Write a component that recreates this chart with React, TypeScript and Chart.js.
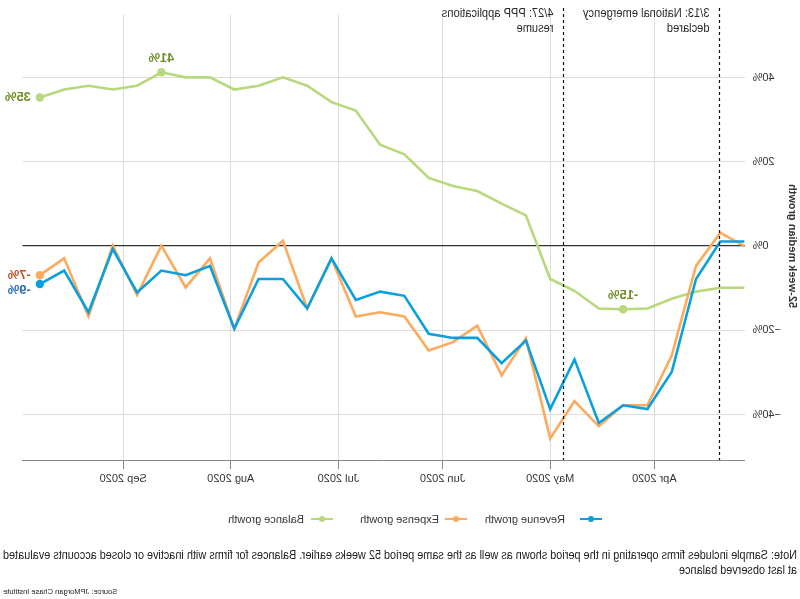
import React, { useEffect, useRef } from "react";
import { Chart, registerables } from "chart.js";

Chart.register(...registerables);

// ---------- data ----------
const dates = [
  "2020-03-06", "2020-03-13", "2020-03-20", "2020-03-27", "2020-04-03", "2020-04-10",
  "2020-04-17", "2020-04-24", "2020-05-01", "2020-05-08", "2020-05-15", "2020-05-22",
  "2020-05-29", "2020-06-05", "2020-06-12", "2020-06-19", "2020-06-26", "2020-07-03",
  "2020-07-10", "2020-07-17", "2020-07-24", "2020-07-31", "2020-08-07", "2020-08-14",
  "2020-08-21", "2020-08-28", "2020-09-04", "2020-09-11", "2020-09-18", "2020-09-25",
];

const revenueGrowth = [
  1.1, 1.1, -7.8, -29.9, -38.7, -37.8, -42.0, -26.9, -38.7, -22.4, -27.8, -21.8,
  -21.8, -20.8, -11.8, -10.8, -12.8, -2.9, -14.8, -7.8, -7.8, -19.6, -4.7, -6.9,
  -5.8, -11.0, -0.7, -15.7, -5.8, -9.0,
];

const expenseGrowth = [
  0.0, 3.2, -4.7, -26.0, -37.8, -37.8, -42.8, -36.8, -45.7, -21.9, -30.7, -18.9,
  -22.8, -24.8, -16.7, -15.7, -16.7, -2.9, -14.8, 1.3, -3.9, -19.6, -2.9, -9.8,
  0.1, -11.6, 0.1, -16.7, -2.9, -6.9,
];

const balanceGrowth = [
  -9.9, -9.9, -10.8, -12.5, -14.8, -15.0, -14.8, -10.6, -7.8, 7.3, 10.1, 13.1,
  14.3, 16.2, 21.8, 24.1, 32.2, 34.2, 38.1, 40.1, 38.1, 37.2, 40.1, 40.1,
  41.3, 38.1, 37.2, 38.1, 37.2, 35.3,
];

const seriesNames = ["Revenue growth", "Expense growth", "Balance growth"];
const seriesColors = ["#0aa0dd", "#fdaa5c", "#b8d87c"];
const labelColors = ["#2d70b1", "#b9562a", "#6e8e27"];

const xTickDates = ["2020-04-01", "2020-05-01", "2020-06-01", "2020-07-01", "2020-08-01", "2020-09-01"];
const xTickLabels = ["Apr 2020", "May 2020", "Jun 2020", "Jul 2020", "Aug 2020", "Sep 2020"];
const xRangeDates = ["2020-03-06", "2020-09-30"];
const yTickValues = [-40, -20, 0, 20, 40];
const yRange = [-50.8, 55];
const yAxisTitle = "52-week median growth";

const eventDates = ["2020-03-13", "2020-04-27"];
const eventTexts = [
  ["3/13: National emergency", "declared"],
  ["4/27: PPP applications", "resume"],
];

const noteLines = [
  "Note: Sample includes firms operating in the period shown as well as the same period 52 weeks earlier. Balances for firms with inactive or closed accounts evaluated",
  "at last observed balance",
];
const sourceText = "Source: JPMorgan Chase Institute";

// ---------- helpers ----------
const FONT = '"Liberation Sans", Arial, Helvetica, sans-serif';
const dayOf = (d: string) =>
  (Date.parse(d + "T00:00:00Z") - Date.parse("2020-01-01T00:00:00Z")) / 86400000;

const allSeries = [revenueGrowth, expenseGrowth, balanceGrowth];

function measure(text: string, font: string): number {
  const c = document.createElement("canvas");
  const cx = c.getContext("2d");
  if (!cx) return 0;
  cx.font = font;
  return cx.measureText(text).width;
}

// highlighted points: [seriesIndex, kind, placement, dy]
const highlights: [number, string, string, number][] = [
  [2, "last", "right", 0],
  [2, "max", "above", 0],
  [2, "min", "above", 0],
  [1, "last", "right", 0],
  [0, "last", "right", 6],
];

const overlayPlugin = {
  id: "overlay",
  afterDatasetsDraw(chart: any) {
    const ctx = chart.ctx;
    const xs = chart.scales.x;
    const ys = chart.scales.y;
    const area = chart.chartArea;

    // event lines
    ctx.save();
    eventDates.forEach((d, i) => {
      const x = Math.round(xs.getPixelForValue(dayOf(d))) + 0.5;
      ctx.beginPath();
      ctx.setLineDash([3, 3]);
      ctx.strokeStyle = "#111";
      ctx.lineWidth = 1.2;
      ctx.moveTo(x, 8);
      ctx.lineTo(x, area.bottom);
      ctx.stroke();
      ctx.setLineDash([]);
      ctx.fillStyle = "#2a2a2a";
      ctx.font = "12px " + FONT;
      ctx.textAlign = "left";
      ctx.textBaseline = "middle";
      eventTexts[i].forEach((t, j) => {
        ctx.save();
        ctx.translate(x + 10, 14 + j * 14.3);
        ctx.scale(0.925, 1);
        ctx.fillText(t, 0, 0);
        ctx.restore();
      });
    });
    ctx.restore();

    // highlighted points
    ctx.save();
    highlights.forEach(([si, kind, place, dy]) => {
      const vals = allSeries[si];
      let idx = vals.length - 1;
      if (kind === "max") idx = vals.indexOf(Math.max(...vals));
      if (kind === "min") idx = vals.indexOf(Math.min(...vals));
      const x = xs.getPixelForValue(dayOf(dates[idx]));
      const y = ys.getPixelForValue(vals[idx]);
      ctx.beginPath();
      ctx.fillStyle = seriesColors[si];
      ctx.arc(x, y, 4.2, 0, Math.PI * 2);
      ctx.fill();
      ctx.fillStyle = labelColors[si];
      ctx.font = "bold 13px " + FONT;
      ctx.textBaseline = "middle";
      const txt = Math.round(vals[idx]) + "%";
      if (place === "right") {
        ctx.textAlign = "left";
        ctx.fillText(txt, x + 9, y + dy);
      } else {
        ctx.textAlign = "center";
        ctx.fillText(txt, x, y - 14 + dy);
      }
    });
    ctx.restore();

    // y-axis title
    ctx.save();
    ctx.translate(8, 246);
    ctx.rotate(-Math.PI / 2);
    ctx.fillStyle = "#333";
    ctx.font = "bold 11px " + FONT;
    ctx.textAlign = "center";
    ctx.textBaseline = "middle";
    ctx.fillText(yAxisTitle, 0, 0);
    ctx.restore();
  },
};

export default function App() {
  const canvasRef = useRef<HTMLCanvasElement | null>(null);

  useEffect(() => {
    const canvas = canvasRef.current;
    if (!canvas) return;
    const chart = new Chart(canvas, {
      type: "line",
      data: {
        datasets: allSeries.map((vals, i) => ({
          label: seriesNames[i],
          data: vals.map((v, j) => ({ x: dayOf(dates[j]), y: v })),
          borderColor: seriesColors[i],
          backgroundColor: seriesColors[i],
          borderWidth: 2.6,
          pointRadius: 0,
          tension: 0,
          fill: false,
        })),
      },
      options: {
        responsive: false,
        animation: false,
        devicePixelRatio: 1,
        layout: { padding: { left: 0, right: 22.5, top: 13, bottom: 0 } },
        plugins: { legend: { display: false }, tooltip: { enabled: false } },
        scales: {
          x: {
            type: "linear",
            min: dayOf(xRangeDates[0]),
            max: dayOf(xRangeDates[1]),
            afterBuildTicks: (scale: any) => {
              scale.ticks = xTickDates.map((d) => ({ value: dayOf(d) }));
            },
            afterFit: (scale: any) => {
              scale.height = 40;
            },
            ticks: {
              autoSkip: false,
              maxRotation: 0,
              padding: 3,
              color: "#333",
              font: { family: FONT, size: 11 },
              callback: (v: any) => {
                const k = xTickDates.findIndex((d) => dayOf(d) === v);
                return k >= 0 ? xTickLabels[k] : "";
              },
            },
            grid: {
              color: "#dcdcdc",
              lineWidth: 1,
              drawTicks: true,
              tickLength: 9,
              tickColor: "#888",
            },
            border: { display: true, color: "#888", width: 1 },
          },
          y: {
            min: yRange[0],
            max: yRange[1],
            afterBuildTicks: (scale: any) => {
              scale.ticks = yTickValues.map((v) => ({ value: v }));
            },
            afterFit: (scale: any) => {
              scale.width = 55.4;
            },
            ticks: {
              padding: 8,
              color: "#333",
              font: { family: FONT, size: 11 },
              callback: (v: any) => (v < 0 ? "\u2212" + Math.abs(v) + "%" : v + "%"),
            },
            grid: {
              drawTicks: false,
              color: (c: any) => (c.tick && c.tick.value === 0 ? "#333" : "#dcdcdc"),
              lineWidth: (c: any) => (c.tick && c.tick.value === 0 ? 1.3 : 1),
            },
            border: { display: false },
          },
        },
      },
      plugins: [overlayPlugin],
    } as any);
    return () => chart.destroy();
  }, []);

  const legendMarkerX = [198, 333, 467];
  const legendTextX = [235, 361, 496];

  const noteFont = "12px " + FONT;
  const noteW = measure(noteLines[0], noteFont);
  const noteScale = noteW > 0 ? Math.min(1, 794 / noteW) : 0.915;

  return (
    <div
      style={{
        position: "fixed",
        left: 0,
        top: 0,
        width: 800,
        height: 599,
        background: "#fff",
        transform: "scaleX(-1)",
        fontFamily: FONT,
        overflow: "hidden",
      }}
    >
      <canvas ref={canvasRef} width={800} height={500} style={{ position: "absolute", left: 0, top: 0, width: 800, height: 500 }} />
      {seriesNames.map((n, i) => (
        <React.Fragment key={n}>
          <div style={{ position: "absolute", left: legendMarkerX[i], top: 518, width: 22, height: 2, background: seriesColors[i] }} />
          <div style={{ position: "absolute", left: legendMarkerX[i] + 8, top: 516, width: 6, height: 6, borderRadius: 3, background: seriesColors[i] }} />
          <div style={{ position: "absolute", left: legendTextX[i], top: 512, fontSize: 11, lineHeight: "14px", color: "#333", whiteSpace: "nowrap" }}>{n}</div>
        </React.Fragment>
      ))}
      {noteLines.map((t, i) => (
        <div
          key={i}
          style={{
            position: "absolute",
            left: 3,
            top: 548 + i * 15,
            fontSize: 12,
            lineHeight: "15px",
            color: "#222",
            whiteSpace: "nowrap",
            transform: `scaleX(${noteScale})`,
            transformOrigin: "0 0",
          }}
        >
          {t}
        </div>
      ))}
      <div style={{ position: "absolute", right: 3, top: 587, fontSize: 7.5, lineHeight: "9px", color: "#222", whiteSpace: "nowrap" }}>{sourceText}</div>
    </div>
  );
}
